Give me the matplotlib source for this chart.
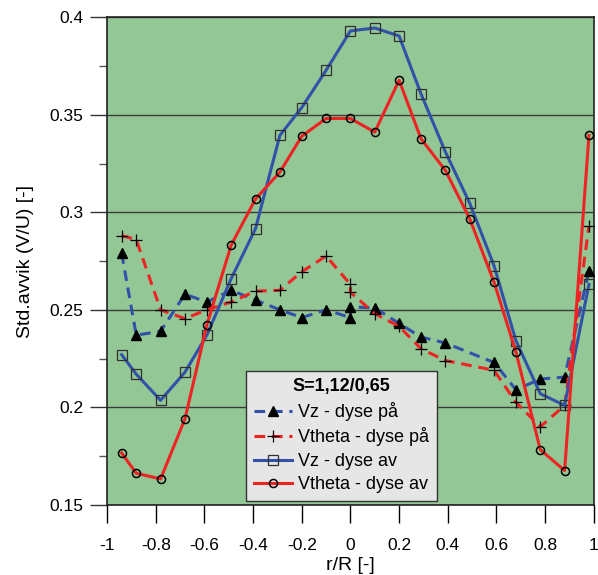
import matplotlib
matplotlib.use("Agg")
import matplotlib.pyplot as plt
from matplotlib.ticker import MultipleLocator

plt.rcParams['font.family'] = ['Liberation Sans', 'DejaVu Sans']

# radial positions (r/R); the "dyse på" runs have two readings at r=0 and none at 0.49
r_on = [-0.94, -0.88, -0.78, -0.68, -0.59, -0.49, -0.39, -0.29, -0.2, -0.1,
        0.0, 0.0, 0.1, 0.2, 0.29, 0.39, 0.59, 0.68, 0.78, 0.88, 0.98]
r_off = [-0.94, -0.88, -0.78, -0.68, -0.59, -0.49, -0.39, -0.29, -0.2, -0.1,
         0.0, 0.1, 0.2, 0.29, 0.39, 0.49, 0.59, 0.68, 0.78, 0.88, 0.98]

vz_on = [0.279, 0.237, 0.239, 0.258, 0.254, 0.260, 0.255, 0.250, 0.246, 0.250,
         0.246, 0.2515, 0.251, 0.243, 0.236, 0.233, 0.223, 0.209, 0.2145, 0.2155, 0.270]
vtheta_on = [0.288, 0.286, 0.250, 0.2455, 0.250, 0.254, 0.2596, 0.260, 0.2695, 0.2776,
             0.263, 0.259, 0.248, 0.2415, 0.230, 0.224, 0.219, 0.2026, 0.190, 0.201, 0.293]
vz_off = [0.227, 0.217, 0.2036, 0.218, 0.237, 0.266, 0.2916, 0.3394, 0.3537, 0.3728,
          0.393, 0.3945, 0.3904, 0.3607, 0.331, 0.3047, 0.2726, 0.2342, 0.207, 0.201, 0.263]
vtheta_off = [0.1766, 0.1662, 0.1633, 0.194, 0.2422, 0.2832, 0.3068, 0.3206, 0.339, 0.3481,
              0.3481, 0.3411, 0.3677, 0.3377, 0.3215, 0.2967, 0.2642, 0.2284, 0.1783, 0.1676, 0.3394]

labels = ["Vz - dyse på", "Vtheta - dyse på", "Vz - dyse av", "Vtheta - dyse av"]

blue = "#3152a8"
red = "#ee2424"

fig = plt.figure(figsize=(5.98, 5.75), dpi=100)
ax = fig.add_axes([0.179, 0.122, 0.814, 0.848])
ax.set_facecolor("#93c795")

ax.plot(r_on, vz_on, color=blue, lw=2.2, ls=(0, (3.5, 2.2)), marker="^",
        ms=6.5, mfc="black", mec="black", label=labels[0], zorder=3)
ax.plot(r_on, vtheta_on, color=red, lw=2.2, ls=(0, (3.5, 2.2)), marker="+",
        ms=9, mew=0.9, mec="black", label=labels[1], zorder=3)
ax.plot(r_off, vz_off, color=blue, lw=2.2, marker="s", ms=6.5,
        mfc="none", mec="#303030", mew=0.9, label=labels[2], zorder=3)
ax.plot(r_off, vtheta_off, color=red, lw=2.2, marker="o", ms=5.8,
        mfc="none", mec="black", mew=1.1, label=labels[3], zorder=3)

ax.set_xlim(-1, 1)
ax.set_ylim(0.15, 0.4)
ax.yaxis.set_minor_locator(MultipleLocator(0.025))
ax.set_xticks([-1, -0.8, -0.6, -0.4, -0.2, 0, 0.2, 0.4, 0.6, 0.8, 1])
ax.set_xticklabels(["-1", "-0.8", "-0.6", "-0.4", "-0.2", "0", "0.2", "0.4", "0.6", "0.8", "1"])
ax.set_yticks([0.15, 0.2, 0.25, 0.3, 0.35, 0.4])
ax.set_yticklabels(["0.15", "0.2", "0.25", "0.3", "0.35", "0.4"])

ax.grid(axis="y", which="major", color="#3a3a3a", lw=1.0)
ax.set_axisbelow(True)
ax.tick_params(axis="x", which="major", direction="out", length=13, width=1,
               labelsize=12.5, pad=11)
ax.tick_params(axis="y", which="major", direction="out", length=12, width=1,
               labelsize=12.5, pad=5, color="#333333")
ax.tick_params(axis="y", which="minor", direction="out", length=6, width=1, color="#555555")
for side in ax.spines.values():
    side.set_color("#222222")
    side.set_linewidth(1.2)

ax.set_xlabel("r/R [-]", fontsize=14, labelpad=3)
ax.set_ylabel("Std.avvik (V/U) [-]", fontsize=14, labelpad=11)

leg = ax.legend(loc="lower left", bbox_to_anchor=(0.286, 0.008), title="S=1,12/0,65",
                fontsize=13, title_fontproperties={"weight": "bold", "size": 13},
                frameon=True, fancybox=False, edgecolor="#333333", facecolor="#e6e6e6",
                framealpha=1, handlelength=2.1, handletextpad=0.35, labelspacing=0.36,
                borderpad=0.42, borderaxespad=0)
leg.get_frame().set_linewidth(1.0)

fig.savefig("out.png", dpi=100)
